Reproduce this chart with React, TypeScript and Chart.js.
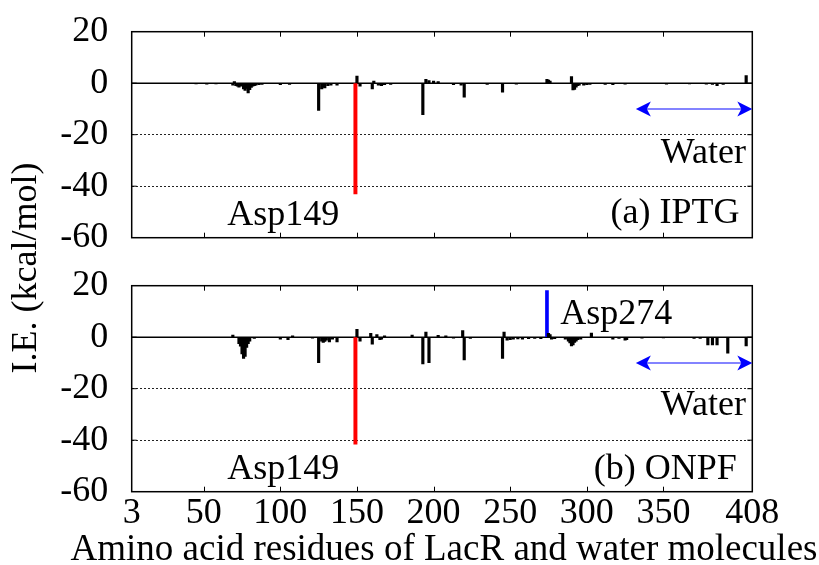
import React, { useEffect, useRef } from "react";
import { Chart, registerables } from "chart.js";

Chart.register(...registerables);

// ---------- data ----------
const X_MIN = 3;
const X_MAX = 408;
const xTickValues = [3, 50, 100, 150, 200, 250, 300, 350, 408];
const xMinorTicks = [50, 100, 150, 200, 250, 300, 350];
const yTickValues = [-60, -40, -20, 0, 20];
const xAxisTitle = "Amino acid residues of LacR and water molecules";
const yAxisTitle = "I.E. (kcal/mol)";

// (a) IPTG
const iptgResidues = [45, 52, 58, 69, 70, 71, 72, 73, 74, 76, 77, 78, 79, 80, 81, 82, 83, 84, 86, 88, 100, 106, 125, 127, 128, 129, 131, 133, 137, 150, 152, 160, 161, 164, 166, 168, 172, 193, 195, 197, 200, 203, 213, 218, 220, 235, 245, 254, 274, 275, 276, 290, 291, 292, 293, 294, 295, 298, 300, 302, 312, 317, 325, 352, 367, 378, 382, 385, 389, 404];
const iptgValues = [-0.3, -0.4, -0.3, -0.8, 0.6, -1.0, -1.2, -1.5, -1.2, -2.2, -2.8, -2.0, -3.8, -2.5, -1.6, -1.2, -1.0, -0.8, -0.6, -0.5, -0.6, -0.5, -10.6, -2.2, -1.5, -1.8, -1.0, -0.8, -0.8, 2.8, -1.2, -2.2, 0.8, -0.8, -1.0, -0.6, -0.5, -12.2, 1.5, 1.0, 0.8, 0.6, -0.6, -0.8, -5.4, -0.5, -3.5, -0.4, 1.5, 1.2, 0.8, 2.6, -2.6, -2.4, -1.5, -1.0, -0.8, -0.8, -0.6, -0.5, -0.5, -0.6, -0.4, -0.4, -0.3, -0.4, -0.5, -1.0, -0.5, 3.0];
const iptgAsp149 = -43;

// (b) ONPF
const onpfResidues = [69, 73, 74, 75, 76, 77, 78, 79, 80, 83, 100, 105, 108, 121, 125, 127, 128, 129, 130, 132, 134, 137, 150, 152, 159, 160, 163, 165, 166, 168, 186, 193, 195, 197, 203, 208, 213, 219, 220, 224, 245, 246, 248, 250, 252, 255, 258, 262, 266, 270, 275, 276, 277, 279, 286, 288, 289, 290, 291, 292, 293, 294, 296, 303, 317, 321, 325, 326, 336, 350, 370, 374, 379, 382, 385, 392, 404];
const onpfValues = [0.8, -2.5, -3.5, -6.5, -8.2, -7.5, -4.0, -2.5, -1.5, -0.5, -0.8, -1.0, 0.5, -0.4, -9.9, -1.5, -2.0, -1.6, -1.2, -1.8, -0.8, -1.8, 3.1, -1.5, 1.5, -2.7, 1.0, -1.0, -0.8, 0.5, 0.8, -10.4, 2.0, -9.9, 0.7, 0.5, -0.4, 2.6, -8.8, -0.5, -8.2, 2.0, -1.2, -1.0, -0.8, -0.7, -0.8, -0.6, -0.5, -0.6, 1.5, 1.0, -0.8, -0.6, -0.8, -1.5, -2.2, -3.4, -3.0, -2.0, -1.5, -1.0, -0.8, 1.6, -0.8, -0.5, -1.2, -1.0, -0.4, -0.3, -0.5, -0.5, -3.0, -3.0, -3.0, -6.2, -3.4];
const onpfAsp149 = -41.5;
const onpfAsp274 = 18.1;

const waterArrowX = [332, 408];
const waterArrowY = -10;

// ---------- styling ----------
const FONT_FAMILY = '"Liberation Serif", "Times New Roman", Times, serif';
const PLOT_LEFT = 131.7;
const PLOT_RIGHT_PAD = 819 - 752.3;

type Label = { text: string; x: number; y: number; align: CanvasTextAlign };

function makeDecor(id: string, labels: Label[], xTitleBaseline: number | null) {
  return {
    id,
    beforeDatasetsDraw(chart: any) {
      const { ctx, chartArea: a, scales } = chart;
      const y0 = scales.y.getPixelForValue(0);
      ctx.save();
      ctx.strokeStyle = "#000";
      ctx.lineWidth = 1.6;
      ctx.beginPath();
      ctx.moveTo(a.left, y0);
      ctx.lineTo(a.right, y0);
      ctx.stroke();
      ctx.restore();
    },
    afterDraw(chart: any) {
      const { ctx, chartArea: a, scales } = chart;
      const xs = scales.x;
      const ys = scales.y;
      ctx.save();
      // frame
      ctx.strokeStyle = "#000";
      ctx.lineWidth = 1.5;
      ctx.strokeRect(a.left, a.top, a.right - a.left, a.bottom - a.top);
      // inward tick marks
      ctx.lineWidth = 1;
      ctx.beginPath();
      for (const v of xMinorTicks) {
        const px = Math.round(xs.getPixelForValue(v)) + 0.5;
        ctx.moveTo(px, a.bottom);
        ctx.lineTo(px, a.bottom - 5);
        ctx.moveTo(px, a.top);
        ctx.lineTo(px, a.top + 5);
      }
      for (const v of [-40, -20, 0]) {
        const py = ys.getPixelForValue(v);
        ctx.moveTo(a.left, py);
        ctx.lineTo(a.left + 5, py);
        ctx.moveTo(a.right, py);
        ctx.lineTo(a.right - 5, py);
      }
      ctx.stroke();

      // water arrow
      const ax1 = xs.getPixelForValue(waterArrowX[0]);
      const ax2 = xs.getPixelForValue(waterArrowX[1]);
      const ay = ys.getPixelForValue(waterArrowY);
      ctx.strokeStyle = "#5a5aff";
      ctx.lineWidth = 1.6;
      ctx.beginPath();
      ctx.moveTo(ax1 + 10, ay);
      ctx.lineTo(ax2 - 10, ay);
      ctx.stroke();
      ctx.fillStyle = "#0000ff";
      const hl = 15, hw = 7.5, notch = 11;
      ctx.beginPath();
      ctx.moveTo(ax1, ay);
      ctx.lineTo(ax1 + hl, ay - hw);
      ctx.lineTo(ax1 + notch, ay);
      ctx.lineTo(ax1 + hl, ay + hw);
      ctx.closePath();
      ctx.fill();
      ctx.beginPath();
      ctx.moveTo(ax2, ay);
      ctx.lineTo(ax2 - hl, ay - hw);
      ctx.lineTo(ax2 - notch, ay);
      ctx.lineTo(ax2 - hl, ay + hw);
      ctx.closePath();
      ctx.fill();

      // labels
      ctx.fillStyle = "#000";
      ctx.font = `36px ${FONT_FAMILY}`;
      ctx.textBaseline = "alphabetic";
      for (const l of labels) {
        ctx.textAlign = l.align;
        ctx.fillText(l.text, xs.getPixelForValue(l.x), ys.getPixelForValue(l.y));
      }
      if (xTitleBaseline !== null) {
        ctx.font = `37px ${FONT_FAMILY}`;
        ctx.textAlign = "center";
        ctx.fillText(xAxisTitle, (a.left + a.right) / 2 + 2, xTitleBaseline);
      }
      ctx.restore();
    },
  };
}

function buildConfig(
  datasets: any[],
  topPad: number,
  xHeight: number,
  showX: boolean,
  plugin: any
) {
  return {
    type: "bar" as const,
    data: { datasets },
    plugins: [plugin],
    options: {
      animation: false as const,
      responsive: false,
      maintainAspectRatio: false,
      events: [],
      layout: { padding: { left: 0, right: PLOT_RIGHT_PAD, top: topPad, bottom: 0 } },
      plugins: { legend: { display: false }, tooltip: { enabled: false } },
      scales: {
        x: {
          type: "linear" as const,
          min: X_MIN,
          max: X_MAX,
          offset: false,
          grid: { display: false },
          border: { display: false },
          ticks: {
            display: showX,
            autoSkip: false,
            maxRotation: 0,
            padding: -4,
            color: "#000",
            font: { family: FONT_FAMILY, size: 36, lineHeight: 1 },
          },
          afterBuildTicks: (s: any) => {
            s.ticks = xTickValues.map((v) => ({ value: v }));
          },
          afterFit: (s: any) => {
            s.height = xHeight;
          },
        },
        y: {
          min: -60,
          max: 20,
          ticks: {
            stepSize: 20,
            padding: 0,
            color: "#000",
            font: { family: FONT_FAMILY, size: 36, lineHeight: 1 },
          },
          afterBuildTicks: (s: any) => {
            s.ticks = yTickValues.map((v) => ({ value: v }));
          },
          grid: {
            drawTicks: true,
            tickLength: 23.4,
            tickColor: "rgba(0,0,0,0)",
            lineWidth: 1,
            color: (c: any) =>
              c.tick && (c.tick.value === -20 || c.tick.value === -40) ? "#222" : "rgba(0,0,0,0)",
          },
          border: { display: false, dash: [2, 2] },
          afterFit: (s: any) => {
            s.width = PLOT_LEFT;
          },
        },
      },
    },
  };
}

function toPoints(xs: number[], ys: number[]) {
  return xs.map((x, i) => ({ x, y: ys[i] }));
}

export default function App() {
  const topRef = useRef<HTMLCanvasElement>(null);
  const botRef = useRef<HTMLCanvasElement>(null);

  useEffect(() => {
    const topDatasets = [
      { data: toPoints(iptgResidues, iptgValues), backgroundColor: "#000", barThickness: 2.5, grouped: false, borderWidth: 0 },
      { data: [{ x: 149, y: iptgAsp149 }], backgroundColor: "#ff0000", barThickness: 3.3, grouped: false, borderWidth: 0 },
    ];
    const botDatasets = [
      { data: toPoints(onpfResidues, onpfValues), backgroundColor: "#000", barThickness: 2.5, grouped: false, borderWidth: 0 },
      { data: [{ x: 149, y: onpfAsp149 }], backgroundColor: "#ff0000", barThickness: 3.3, grouped: false, borderWidth: 0 },
      { data: [{ x: 274, y: onpfAsp274 }], backgroundColor: "#0000ff", barThickness: 3, grouped: false, borderWidth: 0 },
    ];
    const topPlugin = makeDecor("decorTop", [
      { text: "Asp149", x: 65.4, y: -54.9, align: "left" },
      { text: "(a) IPTG", x: 399.6, y: -54.3, align: "right" },
      { text: "Water", x: 403.8, y: -31.1, align: "right" },
    ], null);
    const botPlugin = makeDecor("decorBot", [
      { text: "Asp149", x: 65.4, y: -55.1, align: "left" },
      { text: "(b) ONPF", x: 397.9, y: -55.0, align: "right" },
      { text: "Water", x: 403.8, y: -30.4, align: "right" },
      { text: "Asp274", x: 282.6, y: 5.2, align: "left" },
    ], 560 - 258);
    const c1 = new Chart(topRef.current as HTMLCanvasElement, buildConfig(topDatasets, 31.7, 258 - 237.7, false, topPlugin) as any);
    const c2 = new Chart(botRef.current as HTMLCanvasElement, buildConfig(botDatasets, 285.7 - 258, 307 - 233.7, true, botPlugin) as any);
    return () => {
      c1.destroy();
      c2.destroy();
    };
  }, []);

  return (
    <div style={{ position: "absolute", left: 0, top: 0, width: 819, height: 565, background: "#fff", overflow: "hidden" }}>
      <canvas ref={topRef} width={819} height={258} style={{ position: "absolute", left: 0, top: 0, display: "block" }} />
      <canvas ref={botRef} width={819} height={307} style={{ position: "absolute", left: 0, top: 258, display: "block" }} />
      <div
        style={{
          position: "absolute",
          left: 23.5 - 150,
          top: 268 - 18,
          width: 300,
          height: 36,
          lineHeight: "36px",
          fontSize: 36,
          fontFamily: FONT_FAMILY,
          textAlign: "center",
          whiteSpace: "nowrap",
          color: "#000",
          transform: "rotate(-90deg)",
          transformOrigin: "50% 50%",
        }}
      >
        {yAxisTitle}
      </div>
    </div>
  );
}
